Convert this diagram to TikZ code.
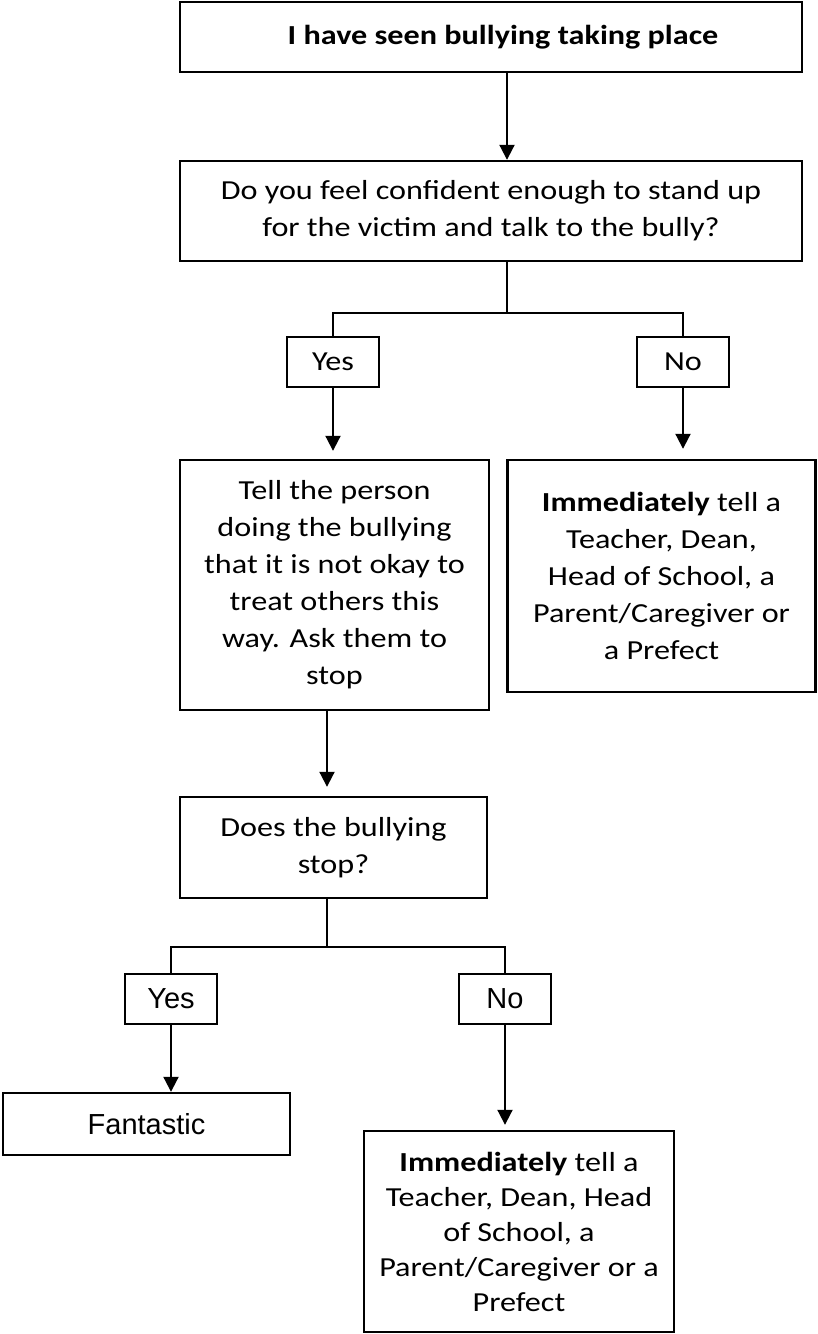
\documentclass[tikz,border=0pt]{standalone}
\usepackage{fontspec}
\setmainfont{Carlito}[FakeStretch=1.17]
\newfontfamily\arialfont{Liberation Sans}
\usetikzlibrary{shapes,arrows.meta,positioning}

\tikzset{
	box/.style={draw,line width=1.2pt,inner sep=0pt,align=center,font=\fontsize{13.75}{18.5}\selectfont},
	choice/.style={box,minimum width=46pt,minimum height=25pt},
	armchoice/.style={choice,font=\arialfont\fontsize{14.5}{17}\selectfont},
	link/.style={line width=1pt},
}

\begin{document}
\begin{tikzpicture}[x=.5pt,y=-.5pt,>={Triangle[length=7.5pt,width=7.5pt]}]
	\useasboundingbox (0,0) rectangle (818,1334);
	% first question
	\node[box,minimum width=311pt,minimum height=35pt] (seen) at (491,37) {\hspace*{12pt}\textbf{I have seen bullying taking place}};
	\node[box,minimum width=311pt,minimum height=50pt] (ask) at (491,211) {Do you feel confident enough to stand up\\for the victim and talk to the bully?};
	\node[choice] (yes1) at (333,362) {Yes};
	\node[choice] (no1) at (683,362) {No};
	\node[box,minimum width=154.5pt,minimum height=125pt] (tell) at (334.5,585) {Tell the person\\doing the bullying\\that it is not okay to\\treat others this\\way. Ask them to\\stop};
	\node[box,minimum width=154pt,minimum height=116pt] (tellnow) at (661.5,576) {\textbf{Immediately} tell a\\Teacher, Dean,\\Head of School, a\\Parent/Caregiver or\\a Prefect};
	% second question
	\node[box,minimum width=153.5pt,minimum height=50.5pt] (stops) at (333.5,847.5) {Does the bullying\\stop?};
	\node[armchoice] (yes2) at (171,999) {Yes};
	\node[armchoice] (no2) at (505,999) {No};
	\node[box,minimum width=143.5pt,minimum height=31pt,font=\arialfont\fontsize{14.5}{17}\selectfont] (fantastic) at (146.5,1124) {Fantastic};
	\node[box,minimum width=155pt,minimum height=100.5pt,font=\fontsize{13.75}{17.5}\selectfont] (final) at (519,1231.5) {\textbf{Immediately} tell a\\Teacher, Dean, Head\\of School, a\\Parent/Caregiver or a\\Prefect};
	\coordinate (fork1) at (507,313);
	\coordinate (fork2) at (327,947);
	% connectors
	\draw[link,->] (seen.south -| fork1) -- (ask.north -| fork1);
	\draw[link] (ask.south -| fork1) -- (fork1);
	\draw[link] (yes1.north) |- (fork1) -| (no1.north);
	\draw[link,->,shorten >=4pt] (yes1.south) -- (tell.north -| yes1);
	\draw[link,->,shorten >=5pt] (no1.south) -- (tellnow.north -| no1);
	\draw[link,->,shorten >=4.5pt] (tell.south -| fork2) -- (stops.north -| fork2);
	\draw[link] (stops.south -| fork2) -- (fork2);
	\draw[link] (yes2.north) |- (fork2) -| (no2.north);
	\draw[link,->] (yes2.south) -- (fantastic.north -| yes2);
	\draw[link,->,shorten >=2.5pt] (no2.south) -- (final.north -| no2);
\end{tikzpicture}
\end{document}
